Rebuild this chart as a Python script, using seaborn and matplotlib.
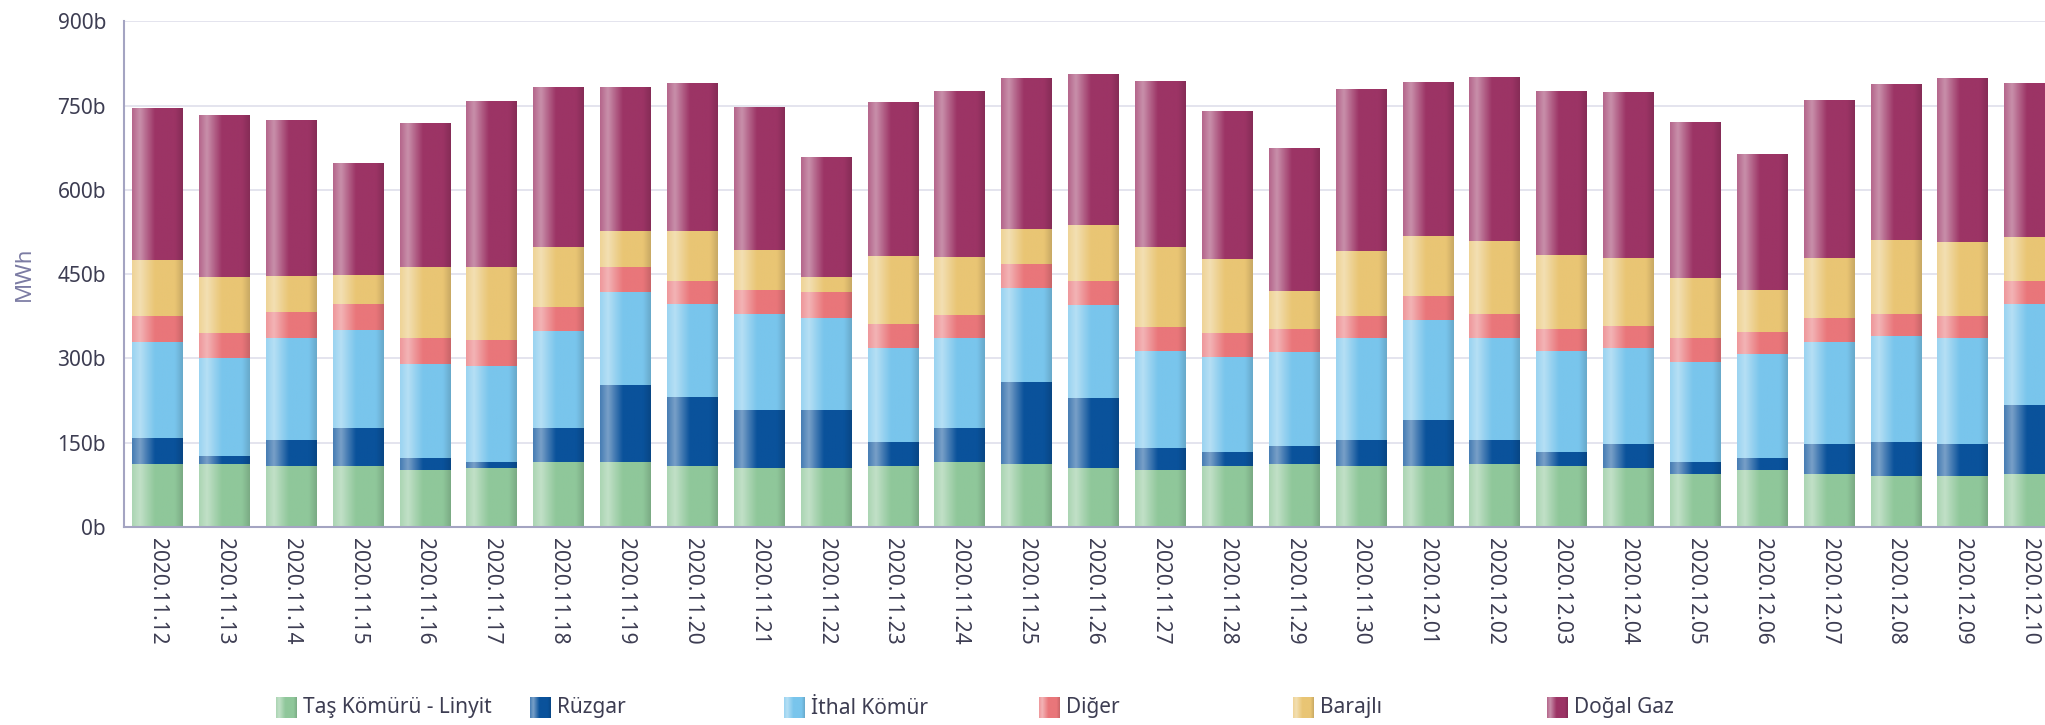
import numpy as np
import pandas as pd
import matplotlib
matplotlib.use("Agg")
import matplotlib.pyplot as plt
import seaborn as sns
from matplotlib.colors import LinearSegmentedColormap, to_rgb

dates = ["2020.11.%d" % d for d in range(12, 31)] + ["2020.12.%02d" % d for d in range(1, 11)]

# values in thousand MWh ("b" = bin)
tas_komuru = [112, 112, 108, 108, 101, 105, 115.5, 115.5, 108, 104.7, 104.7, 108, 115.5, 111.7, 104.7,
              101, 108, 111.7, 108, 108, 111.7, 108, 104.7, 94, 101, 94, 90, 90, 94]
ruzgar = [46, 14, 46, 68, 22, 11, 60, 138, 124, 103, 103, 43, 60, 146, 124,
          39, 25, 32, 46, 82, 42.5, 25, 42.5, 22, 22, 53, 61, 57, 124]
ithal_komur = [171, 174, 182, 174, 167, 170, 174, 164, 164, 171, 164, 167, 160, 167, 167,
               174, 170, 167, 182, 178, 182, 181, 171, 178, 185, 182, 189, 189, 178]
diger = [46, 46, 46, 46, 46, 46, 42.5, 46, 42.5, 42.5, 46, 42.5, 42.5, 42.5, 42.5,
         42.5, 43, 42.5, 39, 42.5, 42.5, 39, 39, 42.5, 39, 42.5, 39, 39, 42.5]
barajli = [100, 99, 64, 53, 127, 131, 107, 64, 89, 71, 28, 121, 103, 64, 100,
           142, 131, 67, 117, 107, 131, 131, 121, 107, 74, 107, 131, 132, 78]
dogal_gaz = [270, 288, 277, 199, 256, 295, 284, 256, 263, 253, 213, 274, 295, 267, 267,
             295, 263, 253, 288, 274, 291, 291, 295, 277, 242, 281, 277, 291, 274]

series_names = ["Taş Kömürü - Linyit", "Rüzgar", "İthal Kömür", "Diğer", "Barajlı", "Doğal Gaz"]
series_values = [tas_komuru, ruzgar, ithal_komur, diger, barajli, dogal_gaz]
series_colors = ["#8fc79a", "#0a529b", "#79c5ec", "#e9767a", "#e9c574", "#9c3465"]
y_ticks = [0, 150, 300, 450, 600, 750, 900]

TEXT = "#3d3d52"
W, H = 2045, 725


def gradient_cmap(base):
    # light stripe on the left, slightly darker right edge (cylinder look)
    c = np.array(to_rgb(base))
    light = c + (1 - c) * 0.45
    edge = c + (1 - c) * 0.25
    dark = c * 0.86
    return LinearSegmentedColormap.from_list(
        "g", [(0, edge), (0.15, light), (0.45, c), (0.85, c), (1.0, dark)])


def shade(ax, patch, cmap):
    x0, y0 = patch.get_x(), patch.get_y()
    x1, y1 = x0 + patch.get_width(), y0 + patch.get_height()
    grad = np.linspace(0, 1, 64)[np.newaxis, :]
    ax.imshow(grad, cmap=cmap, extent=(x0, x1, y0, y1), aspect="auto",
              interpolation="bilinear", zorder=3)


sns.set_style("white")
plt.rcParams["font.family"] = ["Noto Sans", "DejaVu Sans"]

fig = plt.figure(figsize=(W / 100, H / 100), dpi=100)
ax = fig.add_axes([124 / W, (H - 527) / H, (W - 124) / W, (527 - 21.3) / H])

df = pd.DataFrame(dict(zip(series_names, series_values)), index=dates)
bottom = np.zeros(len(dates))
for name, color in zip(series_names, series_colors):
    sns.barplot(x=dates, y=df[name].values, bottom=bottom, color=color, width=0.758,
                saturation=1, errorbar=None, linewidth=0, ax=ax)
    cmap = gradient_cmap(color)
    for p in ax.containers[-1]:
        shade(ax, p, cmap)
    bottom = bottom + df[name].values

ax.set_xlim(-0.5, 28.23)
ax.set_ylim(0, 900)
ax.set_yticks(y_ticks)
ax.set_yticklabels(["%db" % v for v in y_ticks])
ax.set_xticks(range(len(dates)))
ax.set_xticklabels(dates, rotation=270, ha="center", va="top")
ax.tick_params(axis="both", length=0, labelsize=15, labelcolor=TEXT)
ax.tick_params(axis="y", pad=13)
ax.tick_params(axis="x", pad=8)
ax.set_xlabel("")
ax.set_ylabel("MWh", fontsize=16, color="#7b7ba3")
ax.yaxis.set_label_coords(-(124 - 35) / (W - 124), 0.5)

ax.yaxis.grid(True, color="#e4e4ee", lw=1.4)
ax.set_axisbelow(True)
for s in ["top", "right"]:
    ax.spines[s].set_visible(False)
for s in ["left", "bottom"]:
    ax.spines[s].set_color("#a4a4c2")
    ax.spines[s].set_linewidth(1.5)
    ax.spines[s].set_zorder(5)

# legend laid out like the original: fixed item width
for i, (name, color) in enumerate(zip(series_names, series_colors)):
    x = 276 + 254.2 * i
    lax = fig.add_axes([x / W, (H - 718) / H, 21 / W, 21 / H])
    lax.imshow(np.linspace(0, 1, 64)[np.newaxis, :], cmap=gradient_cmap(color),
               aspect="auto", interpolation="bilinear")
    lax.axis("off")
    fig.text((x + 27) / W, (H - 708) / H, name, fontsize=15, color=TEXT, va="center")

fig.savefig("out.png", dpi=100)
